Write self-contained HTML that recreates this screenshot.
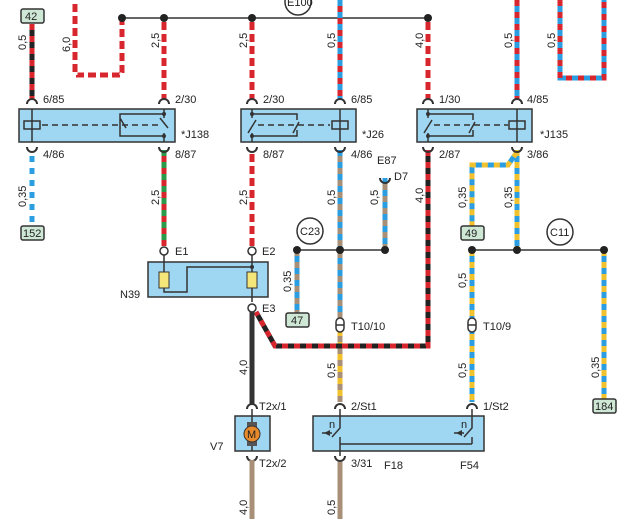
<!DOCTYPE html>
<html><head><meta charset="utf-8"><style>
html,body{margin:0;padding:0;background:#fff;}
svg{display:block;font-family:"Liberation Sans",Arial,sans-serif;}
text{font-size:11px;fill:#222;}
</style></head><body>
<svg width="630" height="519" viewBox="0 0 630 519" xmlns="http://www.w3.org/2000/svg">
<defs>
<style>
.w{fill:none;stroke-width:5;stroke-linejoin:miter}
.s{fill:none;stroke-width:5;stroke-dasharray:6 6;stroke-linejoin:miter}
.rw{fill:none;stroke-width:5;stroke:#fff;stroke-dasharray:4 8;stroke-linejoin:miter}
.box{fill:#9fd6f2;stroke:#333;stroke-width:1.5}
.ln{fill:none;stroke:#333;stroke-width:1.5}
.dash{fill:none;stroke:#333;stroke-width:1.5;stroke-dasharray:6 4}
.c{fill:none;stroke:#333;stroke-width:2}
.lb{fill:#cfe8d6;stroke:#333;stroke-width:1.5}
</style>
</defs>

<path class="ln" d="M122 18 H428"/>
<circle cx="298" cy="2" r="13" fill="#fff" stroke="#333" stroke-width="1.5"/>
<text x="287" y="6" font-size="10">E100</text>

<path class="w" stroke="#222" d="M32 24 V100"/><path class="s" stroke="#d8262e" d="M32 24 V100"/>
<rect class="lb" x="21" y="9" width="23" height="14" rx="2"/><text x="25" y="20">42</text>
<text transform="translate(26,50) rotate(-90)" font-size="10">0,5</text>
<path class="w" stroke="#2a9ee0" d="M32 150 V226"/><path class="s" stroke="#fff" stroke-dasharray="4 14" d="M32 150 V226"/>
<rect class="lb" x="21" y="226" width="23" height="14" rx="2"/><text x="23" y="237">152</text>
<text transform="translate(26,207) rotate(-90)" font-size="10">0,35</text>

<path class="w" stroke="#d8262e" d="M75 0 V75 H122 V18"/><path class="rw" d="M75 0 V75 H122 V18"/>
<text transform="translate(70,52) rotate(-90)" font-size="10">6,0</text>

<path class="w" stroke="#d8262e" d="M164 18 V100"/><path class="rw" d="M164 18 V100"/>
<text transform="translate(159,48) rotate(-90)" font-size="10">2,5</text>
<path class="w" stroke="#d8262e" d="M164 150 V246"/><path class="s" stroke="#2a9a4a" stroke-dasharray="8 8" d="M164 150 V246"/>
<text transform="translate(159,205) rotate(-90)" font-size="10">2,5</text>

<path class="w" stroke="#d8262e" d="M252 18 V100"/><path class="rw" d="M252 18 V100"/>
<text transform="translate(247,48) rotate(-90)" font-size="10">2,5</text>
<path class="w" stroke="#d8262e" d="M252 150 V246"/><path class="rw" d="M252 150 V246"/>
<text transform="translate(247,205) rotate(-90)" font-size="10">2,5</text>

<path class="w" stroke="#d8262e" d="M340 0 V100"/><path class="s" stroke="#2a9ee0" stroke-dasharray="8 6" d="M340 0 V100"/>
<text transform="translate(335,48) rotate(-90)" font-size="10">0,5</text>
<path class="w" stroke="#a89078" d="M340 150 V320"/><path class="s" stroke="#2a9ee0" stroke-dasharray="8 14" d="M340 150 V320"/>
<text transform="translate(335,205) rotate(-90)" font-size="10">0,5</text>
<path class="w" stroke="#a89078" d="M340 330 V402"/><path class="s" stroke="#f2c12e" stroke-dasharray="8 10" d="M340 330 V402"/>
<text transform="translate(335,378) rotate(-90)" font-size="10">0,5</text>
<path class="w" stroke="#a89078" d="M340 462 V519"/>
<text transform="translate(335,515) rotate(-90)" font-size="10">0,5</text>

<path class="w" stroke="#a89078" d="M385 178 V250"/><path class="s" stroke="#2a9ee0" stroke-dasharray="6 14" d="M385 178 V250"/>
<text x="377" y="164">E87</text><text x="394" y="180">D7</text>
<text transform="translate(378,205) rotate(-90)" font-size="10">0,5</text>
<path class="ln" d="M297 250 H385"/>
<circle cx="310" cy="231" r="13" fill="#fff" stroke="#333" stroke-width="1.5"/><text x="300" y="235">C23</text>
<path class="w" stroke="#a89078" d="M297 250 V314"/><path class="s" stroke="#2a9ee0" stroke-dasharray="6 12" d="M297 256 V314"/>
<text transform="translate(291,292) rotate(-90)" font-size="10">0,35</text>
<rect class="lb" x="286" y="313" width="23" height="14" rx="2"/><text x="291" y="324">47</text>

<path class="w" stroke="#d8262e" d="M428 18 V100"/><path class="rw" d="M428 18 V100"/>
<text transform="translate(423,48) rotate(-90)" font-size="10">4,0</text>
<path class="w" stroke="#222" d="M428 150 V346 H275 L256 312"/><path class="s" stroke="#d8262e" d="M428 150 V346 H275 L256 312"/>
<text transform="translate(423,203) rotate(-90)" font-size="10">4,0</text>

<path class="w" stroke="#2a9ee0" d="M517 0 V100"/><path class="s" stroke="#d8262e" stroke-dasharray="8 6" d="M517 0 V100"/>
<text transform="translate(512,48) rotate(-90)" font-size="10">0,5</text>
<path class="w" stroke="#2a9ee0" d="M560 0 V78 H604 V0"/><path class="s" stroke="#d8262e" stroke-dasharray="8 6" d="M560 0 V78 H604 V0"/>
<text transform="translate(555,48) rotate(-90)" font-size="10">0,5</text>

<path class="w" stroke="#2a9ee0" d="M517 150 V250"/><path class="s" stroke="#f2c12e" stroke-dasharray="8 10" d="M517 150 V250"/>
<path class="w" stroke="#2a9ee0" d="M517 152 L508 165 H472 V226"/><path class="s" stroke="#f2c12e" stroke-dasharray="8 10" d="M517 152 L508 165 H472 V226"/>
<text transform="translate(466,208) rotate(-90)" font-size="10">0,35</text>
<text transform="translate(512,208) rotate(-90)" font-size="10">0,35</text>
<rect class="lb" x="461" y="226" width="23" height="14" rx="2"/><text x="465" y="237">49</text>
<path class="ln" d="M472 250 H604"/>
<circle cx="560" cy="232" r="13" fill="#fff" stroke="#333" stroke-width="1.5"/><text x="550" y="236">C11</text>
<path class="w" stroke="#2a9ee0" d="M472 250 V402"/><path class="s" stroke="#f2c12e" stroke-dasharray="8 10" d="M472 250 V402"/>
<text transform="translate(466,288) rotate(-90)" font-size="10">0,5</text>
<text transform="translate(466,378) rotate(-90)" font-size="10">0,5</text>
<path class="w" stroke="#2a9ee0" d="M604 250 V399"/><path class="s" stroke="#f2c12e" stroke-dasharray="6 8" d="M604 250 V399"/>
<text transform="translate(599,378) rotate(-90)" font-size="10">0,35</text>
<rect class="lb" x="593" y="399" width="23" height="14" rx="2"/><text x="595" y="410">184</text>

<g fill="#222">
<circle cx="122" cy="18" r="4"/><circle cx="164" cy="18" r="4"/><circle cx="252" cy="18" r="4"/><circle cx="428" cy="18" r="4"/>
<circle cx="297" cy="250" r="4"/><circle cx="340" cy="250" r="4"/><circle cx="385" cy="250" r="4"/>
<circle cx="472" cy="250" r="4"/><circle cx="517" cy="250" r="4"/><circle cx="604" cy="250" r="4"/>
</g>

<rect class="box" x="19" y="109" width="156" height="33"/>
<rect x="24" y="121" width="16" height="8" fill="#9fd6f2" stroke="#333" stroke-width="1.5"/>
<path class="ln" d="M32 109 V142"/>
<path class="dash" d="M42 125 H160"/>
<path class="ln" d="M164 109 V118 M164 133 V142 M164 114 H120 V136 H164 M120 118 L126 128 M160 118 L168 128"/>
<circle cx="164" cy="114" r="2" fill="#333"/><circle cx="164" cy="136" r="2" fill="#333"/>
<text x="181" y="138">*J138</text>
<rect class="box" x="241" y="109" width="115" height="33"/>
<path class="ln" d="M252 109 V118 M252 133 V142 M252 114 H297 V120 M252 136 H297 V130 M248 133 L256 120 M293 133 L299 122"/>
<circle cx="252" cy="114" r="2" fill="#333"/><circle cx="252" cy="136" r="2" fill="#333"/>
<path class="dash" d="M258 125 H330"/>
<rect x="332" y="121" width="16" height="8" fill="#9fd6f2" stroke="#333" stroke-width="1.5"/>
<path class="ln" d="M340 109 V142"/>
<text x="362" y="138">*J26</text>
<rect class="box" x="417" y="109" width="115" height="33"/>
<path class="ln" d="M428 109 V118 M428 133 V142 M428 114 H473 V120 M428 136 H473 V130 M424 133 L432 120 M469 133 L475 122"/>
<circle cx="428" cy="114" r="2" fill="#333"/><circle cx="428" cy="136" r="2" fill="#333"/>
<path class="dash" d="M434 125 H508"/>
<rect x="509" y="121" width="16" height="8" fill="#9fd6f2" stroke="#333" stroke-width="1.5"/>
<path class="ln" d="M517 109 V142"/>
<text x="540" y="138">*J135</text>

<g class="c">
<path d="M27 104 A5 5 0 0 1 37 104"/><path d="M27 147 A5 5 0 0 0 37 147"/>
<path d="M159 104 A5 5 0 0 1 169 104"/><path d="M159 147 A5 5 0 0 0 169 147"/>
<path d="M247 104 A5 5 0 0 1 257 104"/><path d="M247 147 A5 5 0 0 0 257 147"/>
<path d="M335 104 A5 5 0 0 1 345 104"/><path d="M335 147 A5 5 0 0 0 345 147"/>
<path d="M423 104 A5 5 0 0 1 433 104"/><path d="M423 147 A5 5 0 0 0 433 147"/>
<path d="M512 104 A5 5 0 0 1 522 104"/><path d="M512 147 A5 5 0 0 0 522 147"/>
<path d="M380 178 A5 5 0 0 0 390 178"/>
<path d="M247 409 A5 5 0 0 1 257 409"/><path d="M247 456 A5 5 0 0 0 257 456"/>
<path d="M335 409 A5 5 0 0 1 345 409"/><path d="M335 456 A5 5 0 0 0 345 456"/>
<path d="M467 409 A5 5 0 0 1 477 409"/>
</g>
<g font-size="11">
<text x="43" y="103">6/85</text><text x="43" y="158">4/86</text>
<text x="175" y="103">2/30</text><text x="175" y="158">8/87</text>
<text x="263" y="103">2/30</text><text x="263" y="158">8/87</text>
<text x="351" y="103">6/85</text><text x="351" y="158">4/86</text>
<text x="439" y="103">1/30</text><text x="439" y="158">2/87</text>
<text x="527" y="103">4/85</text><text x="527" y="158">3/86</text>
</g>

<path class="ln" d="M164 250 V262 M252 250 V262"/>
<rect class="box" x="148" y="262" width="120" height="35"/>
<path class="ln" d="M164 262 V292 H187 V267 H252 M252 262 V302"/>
<rect x="159" y="272" width="10" height="16" fill="#f5e67a" stroke="#333" stroke-width="1"/>
<rect x="247" y="272" width="10" height="16" fill="#f5e67a" stroke="#333" stroke-width="1"/>
<circle cx="252" cy="267" r="2" fill="#333"/>
<g fill="#fff" stroke="#333" stroke-width="1.5"><circle cx="164" cy="251" r="4"/><circle cx="252" cy="251" r="4"/><circle cx="252" cy="308" r="4"/></g>
<text x="175" y="255">E1</text><text x="262" y="255">E2</text><text x="262" y="312">E3</text>
<text x="120" y="298">N39</text>

<path class="w" stroke="#333" d="M252 312 V405"/>
<text transform="translate(247,375) rotate(-90)" font-size="10">4,0</text>
<rect class="box" x="235" y="416" width="35" height="35"/>
<path class="ln" d="M252 409 V451"/>
<rect x="247" y="422" width="10" height="24" fill="#555"/>
<circle cx="252" cy="434" r="8" fill="#e88a2a" stroke="#333" stroke-width="1"/>
<text x="247" y="438" font-size="9">M</text>
<text x="259" y="410">T2x/1</text><text x="259" y="467">T2x/2</text>
<text x="210" y="450">V7</text>
<path class="w" stroke="#a89078" d="M252 460 V519"/>
<text transform="translate(247,515) rotate(-90)" font-size="10">4,0</text>

<g fill="#fff" stroke="#333" stroke-width="1.5">
<rect x="336" y="318" width="8" height="14" rx="4"/><rect x="468" y="318" width="8" height="14" rx="4"/>
</g>
<path class="ln" d="M336 325 H344 M468 325 H476"/>
<text x="351" y="330">T10/10</text><text x="483" y="330">T10/9</text>

<rect class="box" x="313" y="416" width="171" height="35"/>
<path class="ln" d="M340 409 V428 L332 437 M340 437 V444 M472 409 V428 L464 437 M472 437 V444 M340 444 H472 M340 444 V456"/>
<path d="M324 433 l6 -3 v6 z M456 433 l6 -3 v6 z" fill="#333"/>
<path class="ln" d="M322 433 H332 M454 433 H464"/>
<text x="329" y="428" font-size="10">n</text><text x="461" y="428" font-size="10">n</text>
<text x="351" y="410">2/St1</text><text x="483" y="410">1/St2</text>
<text x="351" y="467">3/31</text>
<text x="384" y="469">F18</text><text x="460" y="469">F54</text>
</svg>
</body></html>
